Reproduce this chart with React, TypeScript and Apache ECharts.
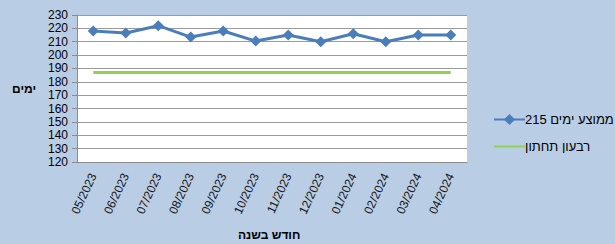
import React, { useEffect, useRef } from "react";
import * as echarts from "echarts";

const categories = ["05/2023","06/2023","07/2023","08/2023","09/2023","10/2023","11/2023","12/2023","01/2024","02/2024","03/2024","04/2024"];
const avgDays = [218, 216.5, 222, 213.5, 218, 210.5, 215, 210, 216, 210, 215, 215];
const lowerQuartile = [187, 187, 187, 187, 187, 187, 187, 187, 187, 187, 187, 187];
const avgName = "215 ממוצע ימים";
const lowerName = "רבעון תחתון";
const yAxisTitle = "ימים";
const xAxisTitle = "חודש בשנה";

export default function App() {
  const ref = useRef<HTMLDivElement>(null);
  useEffect(() => {
    if (!ref.current) return;
    const chart = echarts.init(ref.current, null, { renderer: "svg" });
    const font = "'Liberation Sans', Arial, sans-serif";
    chart.setOption({
      animation: false,
      backgroundColor: "#B9CDE5",
      textStyle: { fontFamily: font },
      grid: {
        left: 77, right: 148, top: 15, bottom: 82,
        show: true, backgroundColor: "#FFFFFF", borderWidth: 0,
      },
      legend: {
        orient: "vertical",
        left: 488, top: 108,
        itemWidth: 31, itemHeight: 14, itemGap: 14,
        textStyle: { fontFamily: font, fontSize: 13, color: "#000", padding: [0, 0, 0, -5] },
        data: [
          { name: avgName },
          { name: lowerName, itemStyle: { color: "rgba(0,0,0,0)", borderWidth: 0 } },
        ],
      },
      xAxis: {
        type: "category",
        data: categories,
        boundaryGap: true,
        axisLine: { show: true, lineStyle: { color: "#8C8C8C", width: 1 } },
        axisTick: { show: false },
        axisLabel: { rotate: 65, fontSize: 12, color: "#111", margin: 12, interval: 0, fontFamily: font },
      },
      yAxis: {
        type: "value",
        min: 120, max: 230, interval: 10,
        axisLine: { show: true, lineStyle: { color: "#8C8C8C", width: 1 } },
        axisTick: { show: true, length: 5, inside: false, lineStyle: { color: "#8C8C8C" } },
        axisLabel: { fontSize: 12, color: "#000", margin: 9, fontFamily: font },
        splitLine: { show: true, lineStyle: { color: "#9A9A9A", width: 1 } },
      },
      series: [
        {
          name: avgName,
          type: "line",
          data: avgDays,
          symbol: "diamond",
          symbolSize: 11,
          lineStyle: { color: "#4A7EBB", width: 3 },
          itemStyle: { color: "#4A7EBB" },
        },
        {
          name: lowerName,
          type: "line",
          data: lowerQuartile,
          symbol: "none",
          lineStyle: { color: "#92D050", width: 3 },
          itemStyle: { color: "#92D050" },
        },
      ],
      graphic: [
        { type: "text", left: 12, top: 83, style: { text: yAxisTitle, font: `bold 12px ${font}`, fill: "#000" } },
        { type: "text", left: 238, top: 229, style: { text: xAxisTitle, font: `bold 12px ${font}`, fill: "#000" } },
      ],
    });
    return () => chart.dispose();
  }, []);
  return <div ref={ref} style={{ width: 615, height: 244, position: "absolute", left: 0, top: 0 }} />;
}
